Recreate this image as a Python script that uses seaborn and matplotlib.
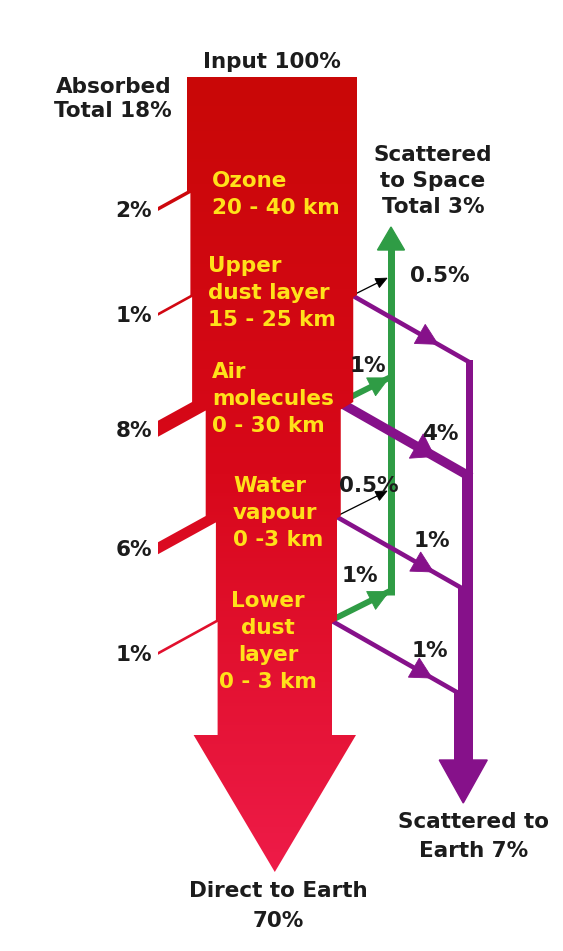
"""Solar radiation passing down through the atmosphere: absorbed, scattered, direct."""

import numpy as np
import matplotlib
matplotlib.use("Agg")
import matplotlib.pyplot as plt
from matplotlib.patches import Polygon, Rectangle
import seaborn as sns

# ---------------------------------------------------------------------------
# data: percent of the incoming solar radiation
# ---------------------------------------------------------------------------
layer_names = ["Ozone\n20 - 40 km", "Upper\ndust layer\n15 - 25 km",
               "Air\nmolecules\n0 - 30 km", "Water\nvapour\n0 -3 km",
               "Lower\ndust\nlayer\n0 - 3 km"]
absorbed = [2, 1, 8, 6, 1]
to_space = [0, 0.5, 1, 0.5, 1]
to_earth = [0, 1, 4, 1, 1]
space_labels = ["", "0.5%", "1%", "0.5%", "1%"]
earth_labels = ["", "", "4%", "1%", "1%"]
input_total = 100
direct_total = 70

sns.set_theme(style="white")
plt.rcParams["font.family"] = ["DejaVu Sans"]

# ---------------------------------------------------------------------------
# layout (pixel units of the 563 x 951 canvas)
# ---------------------------------------------------------------------------
W, H = 563, 951
TOP, X0 = 77, 187
PX, SPX = 1.7, 2.5            # px per percent (column / scattered side)
layer_y = [191, 295, 402, 516, 620]
layer_text_xy = [(212, 187), (208, 272), (212, 378), (233, 492), (268, 607)]
layer_text_ha = ["left", "left", "left", "left", "center"]
space_label_xy = [None, (440, 282), (368, 372), (369, 492), (360, 582)]
earth_label_xy = [None, None, (440, 440), (432, 547), (430, 657)]
ABS_END, SLOPE_A = 158, 0.55
HEAD_Y, TIP_Y = 735, 872
GX, G_TIP, SLOPE_G = 391, 227, 0.5
PR, P_HEAD, P_TIP, SLOPE_P = 473, 760, 803, 0.57

FS = 15.5
INK = "#1c1c1c"
YELLOW = "#ffe11a"
GREEN = "#2f9c45"
PURPLE = "#86118a"
cmap = sns.blend_palette(["#c90707", "#d8081a", "#ee1b48"], as_cmap=True)
grad = np.linspace(0, 1, 256)[:, None]


def px2pt(p):
    return p * 72 / 100


fig = plt.figure(figsize=(W / 100, H / 100), dpi=100)
ax = fig.add_axes([0, 0, 1, 1])
ax.axis("off")


def gradient_patch(verts, z=3):
    poly = Polygon(verts, closed=True, fc="none", ec="none")
    ax.add_patch(poly)
    im = ax.imshow(grad, cmap=cmap, vmin=0, vmax=1, extent=(100, 420, TIP_Y, TOP),
                   origin="upper", aspect="auto", interpolation="bilinear", zorder=z)
    im.set_clip_path(poly)


def head(tip, frm, length, half_w, color, z=2):
    tip = np.asarray(tip, float)
    d = tip - np.asarray(frm, float)
    d /= np.hypot(*d)
    n = np.array([-d[1], d[0]])
    base = tip - d * length
    ax.add_patch(Polygon([tip, base + n * half_w, base - n * half_w], closed=True,
                         fc=color, ec=color, lw=0.6, zorder=z))


def label(x, y, s, color=INK, ha="center", step=27, z=6):
    # one text per line, y is the first baseline
    for k, line in enumerate(s.split("\n")):
        ax.text(x, y + k * step, line, color=color, ha=ha, va="baseline",
                fontsize=FS, fontweight="bold", zorder=z)


# ---------------------------------------------------------------------------
# main red column, narrowing at every layer
# ---------------------------------------------------------------------------
L = X0 + PX * np.concatenate([[0], np.cumsum(absorbed)])
scat = np.add(to_space, to_earth)
R = X0 + PX * input_total - SPX * np.concatenate([[0], np.cumsum(scat)])

col = [(X0, TOP), (R[0], TOP)]
for i, y in enumerate(layer_y):
    if scat[i] > 0:
        col += [(R[i], y), (R[i + 1], y + 0.6 * (R[i] - R[i + 1]))]
col.append((R[-1], HEAD_Y))
cx = (L[-1] + R[-1]) / 2
hw = (R[-1] - L[-1]) / 2 + 24
col += [(cx + hw, HEAD_Y), (cx, TIP_Y), (cx - hw, HEAD_Y), (L[-1], HEAD_Y)]
for i in reversed(range(len(absorbed))):
    h = max(2 * absorbed[i], 3)
    yb = layer_y[i] + h - SLOPE_A * (L[i + 1] - L[i])
    col += [(L[i + 1], yb), (L[i], layer_y[i])]
gradient_patch(col)

# absorbed branches to the left
for i, y in enumerate(layer_y):
    h = max(2 * absorbed[i], 3)
    drop = SLOPE_A * (L[i] - ABS_END)
    yb = y + h - SLOPE_A * (L[i + 1] - L[i])
    band = [(L[i] + 4, y - 4 * SLOPE_A), (ABS_END, y + drop),
            (ABS_END, y + drop + h), (L[i + 1] + 4, yb - 4 * SLOPE_A)]
    gradient_patch(band)
    label(ABS_END - 6, y + drop + h / 2 + 8, f"{absorbed[i]:g}%", ha="right")

# ---------------------------------------------------------------------------
# scattered to space (green trunk, thin black arrows for half percents)
# ---------------------------------------------------------------------------
g_bottom = G_TIP
for i, y in enumerate(layer_y):
    v = to_space[i]
    if v == 0:
        continue
    sx = R[i + 1]
    ex = GX - 4
    ey = y - SLOPE_G * (ex - sx)
    if v < 1:
        ax.plot([sx, ex - 8], [y, ey + 4], color="black", lw=px2pt(1.3), zorder=2)
        head((ex, ey), (sx, y), 11, 5, "black")
    else:
        ax.plot([sx - 6, GX], [y + 3, ey - 2], color=GREEN, lw=px2pt(6),
                solid_capstyle="butt", zorder=2)
        head((GX - 2, ey - 1), (sx, y), 20, 10, GREEN)
        g_bottom = max(g_bottom, ey)
ax.plot([GX, GX], [g_bottom + 2, G_TIP + 20], color=GREEN, lw=px2pt(7),
        solid_capstyle="butt", zorder=2)
ax.add_patch(Polygon([(GX - 13.5, G_TIP + 23), (GX, G_TIP), (GX + 13.5, G_TIP + 23)],
                     closed=True, fc=GREEN, ec=GREEN, zorder=2))

# ---------------------------------------------------------------------------
# scattered to earth (purple trunk, gets wider with every flow joining it)
# ---------------------------------------------------------------------------
joins = []
for i, y in enumerate(layer_y):
    v = to_earth[i]
    if v == 0:
        continue
    tw = 3.5 + 4 * (len(joins) + 1)
    lw = 3 + 1.6 * v
    sx, sy = R[i + 1], y + 1
    ex = PR - 2
    ey = sy + SLOPE_P * (ex - sx)
    ax.plot([sx, ex], [sy, ey], color=PURPLE, lw=px2pt(lw),
            solid_capstyle="butt", zorder=2)
    tip = np.array([sx, sy]) + 0.72 * (np.array([ex, ey]) - np.array([sx, sy]))
    head(tip, (sx, sy), 21, 10 + v, PURPLE)
    joins.append((sy + SLOPE_P * (PR - tw - sx), tw))
for k, (jy, tw) in enumerate(joins):
    y_next = joins[k + 1][0] if k + 1 < len(joins) else P_HEAD
    ax.add_patch(Rectangle((PR - tw, jy), tw, y_next - jy + 1,
                           fc=PURPLE, ec="none", zorder=2))
pcx = PR - joins[-1][1] / 2
ax.add_patch(Polygon([(pcx - 24, P_HEAD), (pcx + 24, P_HEAD), (pcx, P_TIP)],
                     closed=True, fc=PURPLE, ec=PURPLE, zorder=2))

# ---------------------------------------------------------------------------
# texts
# ---------------------------------------------------------------------------
for name, (tx, ty), ha in zip(layer_names, layer_text_xy, layer_text_ha):
    label(tx, ty, name, color=YELLOW, ha=ha, step=27)
for s, xy in zip(space_labels, space_label_xy):
    if s:
        label(*xy, s)
for s, xy in zip(earth_labels, earth_label_xy):
    if s:
        label(*xy, s)

label(272, 68, f"Input {input_total}%")
label(172, 93, f"Absorbed\nTotal {sum(absorbed):g}%", ha="right", step=24)
label(433, 161, f"Scattered\nto Space\nTotal {sum(to_space):g}%", step=26)
label(474, 828, f"Scattered to\nEarth {sum(to_earth):g}%", step=29)
label(278, 897, f"Direct to Earth\n{direct_total}%", step=30)

ax.set_xlim(0, W)
ax.set_ylim(H, 0)
fig.savefig("out.png", dpi=100, facecolor="white")
